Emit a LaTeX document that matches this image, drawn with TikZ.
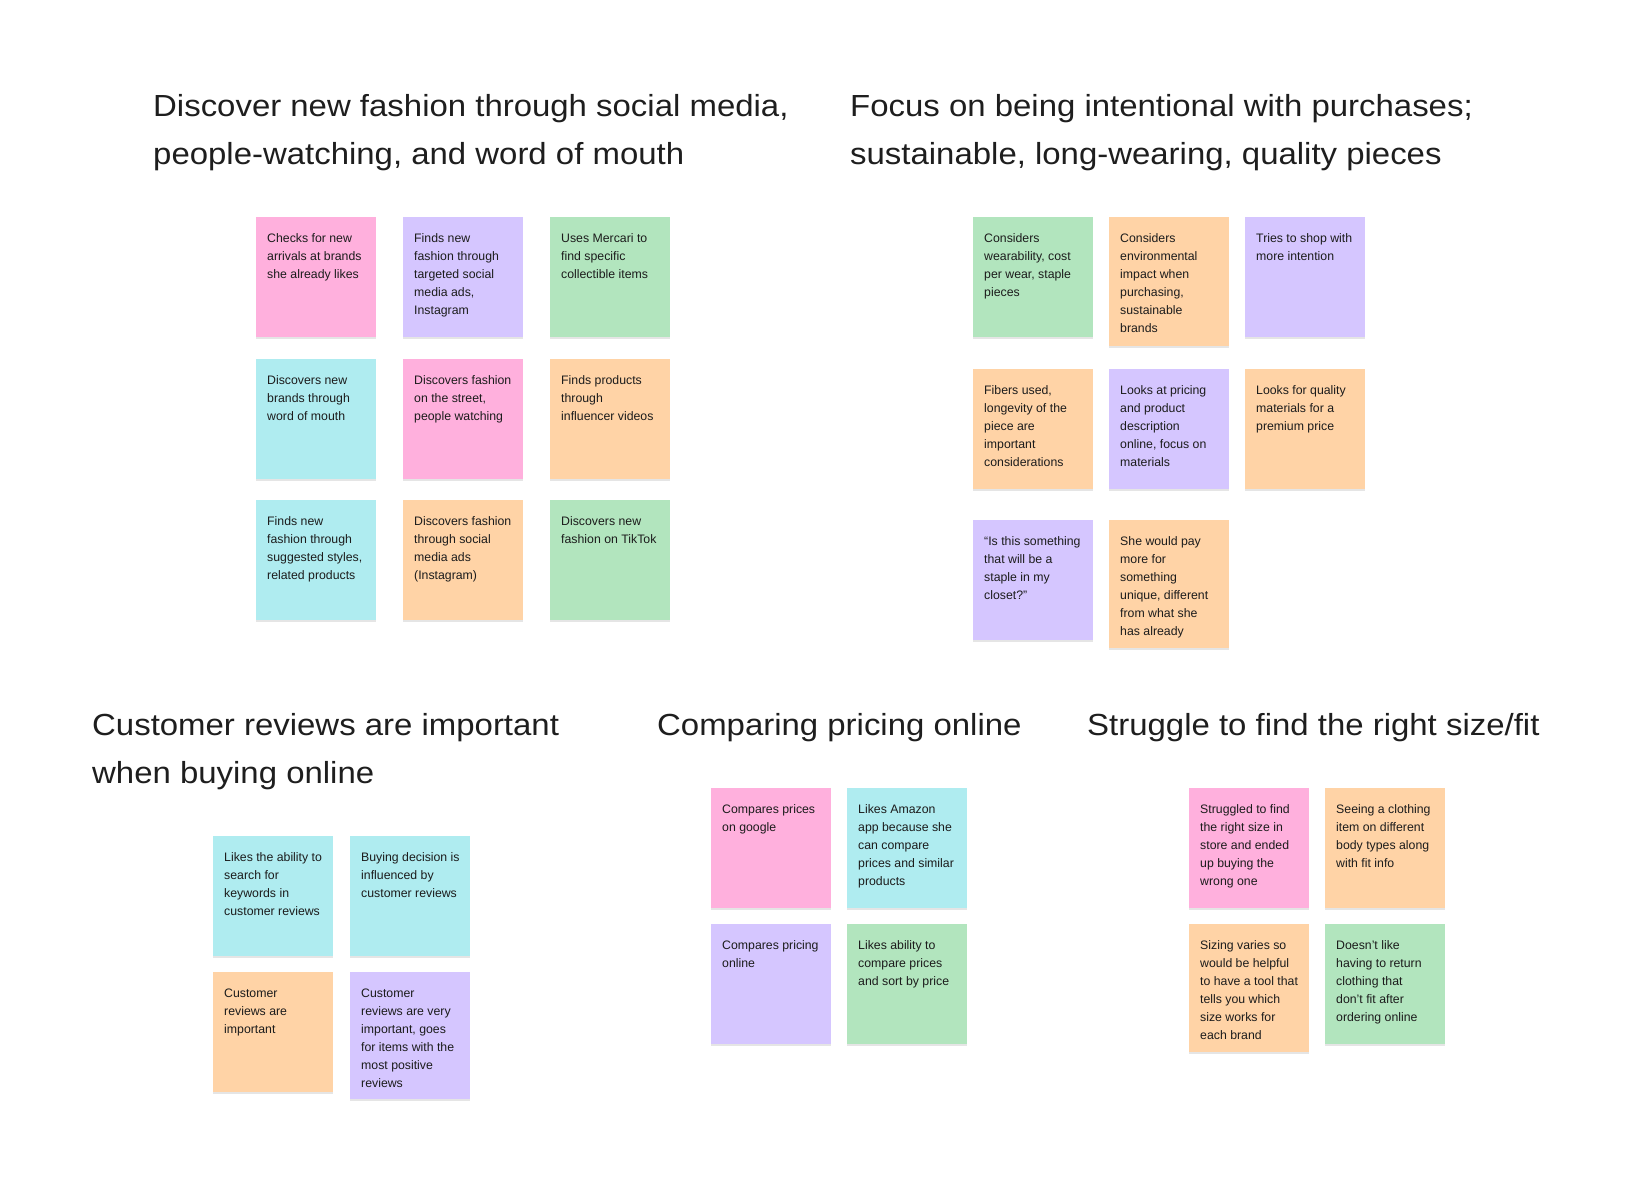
\documentclass[tikz,border=0pt]{standalone}
\usepackage{fontspec}
\setmainfont{Liberation Sans}
\newfontfamily\titlefont{Liberation Sans}[FakeStretch=1.08]
\usetikzlibrary{shadows}
\definecolor{stpink}{RGB}{255,176,221}
\definecolor{stviolet}{RGB}{213,198,255}
\definecolor{stgreen}{RGB}{178,229,190}
\definecolor{stteal}{RGB}{175,236,240}
\definecolor{storange}{RGB}{255,211,166}
\definecolor{ttl}{RGB}{30,30,30}
\definecolor{txt}{RGB}{28,28,28}
\tikzset{
  sticky/.style={anchor=north west, inner sep=0pt, minimum width=120pt,
    draw=none, drop shadow={shadow xshift=0pt, shadow yshift=-2pt, opacity=0.10, fill=black}},
  stext/.style={anchor=north west, inner sep=0pt, text=txt, font=\fontsize{12.3}{18}\selectfont},
  titleline/.style={anchor=base west, inner sep=0pt, text=ttl, font=\titlefont\fontsize{30.5}{48}\selectfont},
}
\newcommand\stk[6]{%
  \node[sticky, fill=#5, minimum height=#4pt] (#1) at (#2,#3) {};
  \node[stext] (#1t) at ([shift={(11pt,-13pt)}]#1.north west)
    {\parbox[t]{125pt}{\raggedright\rule{0pt}{12pt}#6}};
}
\begin{document}
\begin{tikzpicture}[x=1pt,y=-1pt]
\fill[white] (0,0) rectangle (1639,1182);
\useasboundingbox (0,0) rectangle (1639,1182);

% titles
\node[titleline] (h1a) at (153,117) {Discover new fashion through social media,};
\node[titleline] (h1b) at (153,165) {people-watching, and word of mouth};
\node[titleline] (h2a) at (850,117) {Focus on being intentional with purchases;};
\node[titleline] (h2b) at (850,165) {sustainable, long-wearing, quality pieces};
\node[titleline] (h3a) at (92,735) {Customer reviews are important};
\node[titleline] (h3b) at (92,783) {when buying online};
\node[titleline] (h4) at (657,735) {Comparing pricing online};
\node[titleline] (h5) at (1087,735) {Struggle to find the right size/fit};

% group 1
\stk{a1}{256}{217}{120}{stpink}{Checks for new\\arrivals at brands\\she already likes}
\stk{a2}{403}{217}{120}{stviolet}{Finds new\\fashion through\\targeted social\\media ads,\\Instagram}
\stk{a3}{550}{217}{120}{stgreen}{Uses Mercari to\\find specific\\collectible items}
\stk{a4}{256}{359}{120}{stteal}{Discovers new\\brands through\\word of mouth}
\stk{a5}{403}{359}{120}{stpink}{Discovers fashion\\on the street,\\people watching}
\stk{a6}{550}{359}{120}{storange}{Finds products\\through\\influencer videos}
\stk{a7}{256}{500}{120}{stteal}{Finds new\\fashion through\\suggested styles,\\related products}
\stk{a8}{403}{500}{120}{storange}{Discovers fashion\\through social\\media ads\\(Instagram)}
\stk{a9}{550}{500}{120}{stgreen}{Discovers new\\fashion on TikTok}

% group 2
\stk{b1}{973}{217}{120}{stgreen}{Considers\\wearability, cost\\per wear, staple\\pieces}
\stk{b2}{1109}{217}{129}{storange}{Considers\\environmental\\impact when\\purchasing,\\sustainable\\brands}
\stk{b3}{1245}{217}{120}{stviolet}{Tries to shop with\\more intention}
\stk{b4}{973}{369}{120}{storange}{Fibers used,\\longevity of the\\piece are\\important\\considerations}
\stk{b5}{1109}{369}{120}{stviolet}{Looks at pricing\\and product\\description\\online, focus on\\materials}
\stk{b6}{1245}{369}{120}{storange}{Looks for quality\\materials for a\\premium price}
\stk{b7}{973}{520}{120}{stviolet}{“Is this something\\that will be a\\staple in my\\closet?”}
\stk{b8}{1109}{520}{128}{storange}{She would pay\\more for\\something\\unique, different\\from what she\\has already}

% group 3
\stk{c1}{213}{836}{120}{stteal}{Likes the ability to\\search for\\keywords in\\customer reviews}
\stk{c2}{350}{836}{120}{stteal}{Buying decision is\\influenced by\\customer reviews}
\stk{c3}{213}{972}{120}{storange}{Customer\\reviews are\\important}
\stk{c4}{350}{972}{127}{stviolet}{Customer\\reviews are very\\important, goes\\for items with the\\most positive\\reviews}

% group 4
\stk{d1}{711}{788}{120}{stpink}{Compares prices\\on google}
\stk{d2}{847}{788}{120}{stteal}{Likes Amazon\\app because she\\can compare\\prices and similar\\products}
\stk{d3}{711}{924}{120}{stviolet}{Compares pricing\\online}
\stk{d4}{847}{924}{120}{stgreen}{Likes ability to\\compare prices\\and sort by price}

% group 5
\stk{e1}{1189}{788}{120}{stpink}{Struggled to find\\the right size in\\store and ended\\up buying the\\wrong one}
\stk{e2}{1325}{788}{120}{storange}{Seeing a clothing\\item on different\\body types along\\with fit info}
\stk{e3}{1189}{924}{128}{storange}{Sizing varies so\\would be helpful\\to have a tool that\\tells you which\\size works for\\each brand}
\stk{e4}{1325}{924}{120}{stgreen}{Doesn’t like\\having to return\\clothing that\\don’t fit after\\ordering online}
\end{tikzpicture}
\end{document}
